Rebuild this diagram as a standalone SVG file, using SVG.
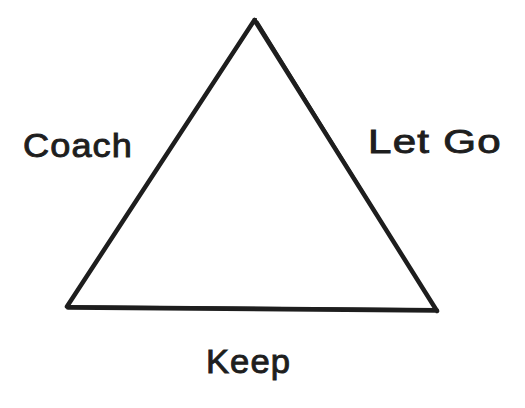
<svg xmlns="http://www.w3.org/2000/svg" width="525" height="408" viewBox="0 0 525 408">
<style>
.edge{fill:none;stroke:#1e1e1e;stroke-linecap:round;stroke-linejoin:round}
.lbl{font-family:"Liberation Sans",Arial,sans-serif;font-size:33px;fill:#1e1e1e;stroke:#1e1e1e;stroke-width:0.9;letter-spacing:1px}
</style>
<rect width="525" height="408" fill="#ffffff"/>
<g id="connectors">
<g id="triangle">
<path class="edge" stroke-width="4.5" d="M254.5 20 L67 306.5 M254.5 20 L437 311 M68 307.5 L437 310.5"/>
<path class="edge" stroke-width="2" d="M256 19 L67.5 305 M257.5 21.5 L435.5 308.5 M69 306 L436 309"/>
</g>
</g>
<g id="coach"><text class="lbl" x="23" y="157" textLength="110" lengthAdjust="spacingAndGlyphs">Coach</text></g>
<g id="letgo"><text class="lbl" x="368" y="153" textLength="134" lengthAdjust="spacingAndGlyphs">Let Go</text></g>
<g id="keep"><text class="lbl" x="206" y="373" textLength="85" lengthAdjust="spacingAndGlyphs">Keep</text></g>
</svg>
